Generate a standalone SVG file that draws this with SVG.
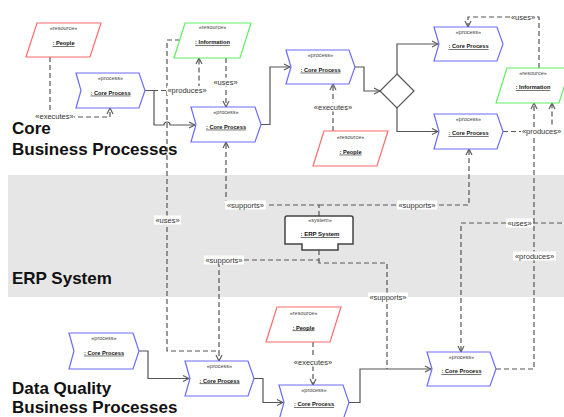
<svg xmlns="http://www.w3.org/2000/svg" width="564" height="417" viewBox="0 0 564 417">
<style>
.proc{fill:#fff;stroke:#6b6bff;stroke-width:1.2}
.people{fill:#fff;stroke:#ff6b6b;stroke-width:1.2}
.info{fill:#fff;stroke:#5ef05e;stroke-width:1.2}
.sys{fill:#fff;stroke:#444;stroke-width:1.5}
.st{font-family:"Liberation Sans",Arial,sans-serif;font-size:5.5px;fill:#444;text-anchor:middle}
.nm{font-family:"Liberation Sans",Arial,sans-serif;font-size:5.7px;font-weight:bold;fill:#111;text-anchor:middle;text-decoration:underline}
.flow{fill:none;stroke:#555;stroke-width:1.2}
.dep{fill:none;stroke:#555;stroke-width:1.2;stroke-dasharray:5 3}
.lb{fill:#fff}
.lbl{font-family:"Liberation Sans",Arial,sans-serif;font-size:7.5px;fill:#333;text-anchor:middle}
.title{font-family:"Liberation Sans",Arial,sans-serif;font-size:17px;font-weight:bold;fill:#111}
</style>
<defs>
<marker id="arr" viewBox="0 0 8 8" refX="7" refY="4" markerWidth="8" markerHeight="8" markerUnits="userSpaceOnUse" orient="auto">
<path d="M1,1 L7,4 L1,7" fill="none" stroke="#555" stroke-width="1.1"/>
</marker>
</defs>
<rect width="564" height="417" fill="#fff"/>
<rect x="8" y="175" width="556" height="122" fill="#e6e6e6"/>

<g id="titles">
<text class="title" x="12" y="134">Core</text>
<text class="title" x="12" y="155">Business Processes</text>
<text class="title" x="12" y="284">ERP System</text>
<text class="title" x="12" y="394">Data Quality</text>
<text class="title" x="12" y="413">Business Processes</text>
</g>

<g id="connectors">
<path class="dep" d="M50,57 V117 H110 V108" marker-end="url(#arr)"/>
<path class="flow" d="M145,90.5 H154 V125 H164 A3,3 0 0 1 170,125 H195" marker-end="url(#arr)"/>
<path class="dep" d="M145,90.5 H199 V58" marker-end="url(#arr)"/>
<path class="dep" d="M226,58 V107" marker-end="url(#arr)"/>
<path class="dep" d="M180,40 H167 V351 H219 V361" marker-end="url(#arr)"/>
<path class="flow" d="M261,124.5 H270 V67 H290" marker-end="url(#arr)"/>
<path class="flow" d="M355,67 H364 V91 H380" marker-end="url(#arr)"/>
<path class="flow" d="M397,74 V44 H438" marker-end="url(#arr)"/>
<path class="flow" d="M397,108 V131.5 H438" marker-end="url(#arr)"/>
<path class="dep" d="M333,131 V84" marker-end="url(#arr)"/>
<path class="dep" d="M539,68 V17 H468 V27" marker-end="url(#arr)"/>
<path class="dep" d="M503,131.5 H552 V103" marker-end="url(#arr)"/>
<path class="dep" d="M496,369 H534 V103" marker-end="url(#arr)"/>
<path class="dep" d="M570,223 H461 V352" marker-end="url(#arr)"/>
<path class="dep" d="M319,216 V205 H226 V142" marker-end="url(#arr)"/>
<path class="dep" d="M319,205 H469 V149" marker-end="url(#arr)"/>
<path class="dep" d="M319,250 V260 H219 V351"/>
<path class="dep" d="M319,260 V263 H387 V369"/>
<path class="flow" d="M139,351 H148 V378.5 H189" marker-end="url(#arr)"/>
<path class="flow" d="M254,378.5 H263 V402.5 H283" marker-end="url(#arr)"/>
<path class="flow" d="M349,402.5 H360 V369 H431" marker-end="url(#arr)"/>
<path class="dep" d="M313,342 V385" marker-end="url(#arr)"/>

<g id="labels">
<rect class="lb" x="35" y="112" width="39" height="9"/><text class="lbl" x="54.5" y="119.2">«executes»</text>
<rect class="lb" x="167" y="86" width="40" height="9"/><text class="lbl" x="187" y="93.2">«produces»</text>
<rect class="lb" x="212" y="77.5" width="27" height="9"/><text class="lbl" x="225.5" y="84.7">«uses»</text>
<rect class="lb" x="312.5" y="102.5" width="41" height="9"/><text class="lbl" x="333" y="109.7">«executes»</text>
<rect class="lb" x="510" y="12.5" width="26" height="9"/><text class="lbl" x="523" y="19.7">«uses»</text>
<rect class="lb" x="521" y="127" width="41" height="9"/><text class="lbl" x="541.5" y="134.2">«produces»</text>
<rect class="lb" x="225" y="200.5" width="41" height="9"/><text class="lbl" x="245.5" y="207.7">«supports»</text>
<rect class="lb" x="397" y="200.5" width="40" height="9"/><text class="lbl" x="417" y="207.7">«supports»</text>
<rect class="lb" x="154" y="215.5" width="27" height="9"/><text class="lbl" x="167.5" y="222.7">«uses»</text>
<rect class="lb" x="204" y="255.5" width="40" height="9"/><text class="lbl" x="224" y="262.7">«supports»</text>
<rect class="lb" x="368" y="292.5" width="40" height="9"/><text class="lbl" x="388" y="299.7">«supports»</text>
<rect class="lb" x="506" y="218.5" width="27" height="9"/><text class="lbl" x="519.5" y="225.7">«uses»</text>
<rect class="lb" x="513" y="251.5" width="43" height="9"/><text class="lbl" x="534.5" y="258.7">«produces»</text>
<rect class="lb" x="292.5" y="357.5" width="41" height="9"/><text class="lbl" x="313" y="364.7">«executes»</text>
</g>
</g>

<g id="people1"><polygon class="people" points="37,23 101,23 90,57 26,57"/><text class="st" x="63.5" y="30">«resource»</text><text class="nm" x="63.5" y="45">: People</text></g>
<g id="info1"><polygon class="info" points="185,23 251,23 240,58 174,58"/><text class="st" x="212.5" y="29">«resource»</text><text class="nm" x="212.5" y="44">: Information</text></g>
<g id="people2"><polygon class="people" points="324,131 388,131 377,166 313,166"/><text class="st" x="350.5" y="138.7">«resource»</text><text class="nm" x="350.5" y="153.7">: People</text></g>
<g id="info2"><polygon class="info" points="507,68 570,68 559,103 496,103"/><text class="st" x="533" y="75">«resource»</text><text class="nm" x="533" y="89">: Information</text></g>
<g id="people3"><polygon class="people" points="277,307 341,307 330,342 266,342"/><text class="st" x="303.5" y="315">«resource»</text><text class="nm" x="303.5" y="329.5">: People</text></g>

<g id="cp1"><polygon class="proc" points="76,73 139,73 145,90.5 139,108 76,108 81,90.5"/><text class="st" x="110.5" y="80.3">«process»</text><text class="nm" x="110.5" y="94.7">: Core Process</text></g>
<g id="cp2"><polygon class="proc" points="191,107 255,107 261,124.5 255,142 191,142 196,124.5"/><text class="st" x="226" y="114.3">«process»</text><text class="nm" x="226" y="128.7">: Core Process</text></g>
<g id="cp3"><polygon class="proc" points="286,50 349,50 355,67 349,84 286,84 291,67"/><text class="st" x="320.5" y="57.3">«process»</text><text class="nm" x="320.5" y="71.7">: Core Process</text></g>
<g id="cp4"><polygon class="proc" points="434,27 497,27 503,44 497,61 434,61 439,44"/><text class="st" x="468.5" y="34.3">«process»</text><text class="nm" x="468.5" y="48.2">: Core Process</text></g>
<g id="cp5"><polygon class="proc" points="434,114 497,114 503,131.5 497,149 434,149 439,131.5"/><text class="st" x="468.5" y="121.3">«process»</text><text class="nm" x="468.5" y="135.2">: Core Process</text></g>
<g id="decision"><polygon fill="#fff" stroke="#555" stroke-width="1.2" points="397,74 414,91 397,108 380,91"/></g>

<g id="erp"><path class="sys" d="M287,216 H351 Q353,216 353,218 V244 H338 V250 H302 V244 H285 V218 Q285,216 287,216 Z"/><text class="st" x="320" y="222">«system»</text><text class="nm" x="320" y="236" style="font-size:6px">: ERP System</text></g>

<g id="dq1"><polygon class="proc" points="69,333 133,333 139,351 133,369 69,369 74,351"/><text class="st" x="104" y="340.3">«process»</text><text class="nm" x="104" y="354.7">: Core Process</text></g>
<g id="dq2"><polygon class="proc" points="185,361 248,361 254,378.5 248,396 185,396 190,378.5"/><text class="st" x="219.5" y="368.3">«process»</text><text class="nm" x="219.5" y="382.5">: Core Process</text></g>
<g id="dq3"><polygon class="proc" points="279,385 343,385 349,402.5 343,420 279,420 284,402.5"/><text class="st" x="314" y="392.3">«process»</text><text class="nm" x="314" y="406">: Core Process</text></g>
<g id="dq4"><polygon class="proc" points="427,352 490,352 496,369 490,386 427,386 432,369"/><text class="st" x="461.5" y="359.3">«process»</text><text class="nm" x="461.5" y="373">: Core Process</text></g>
</svg>
